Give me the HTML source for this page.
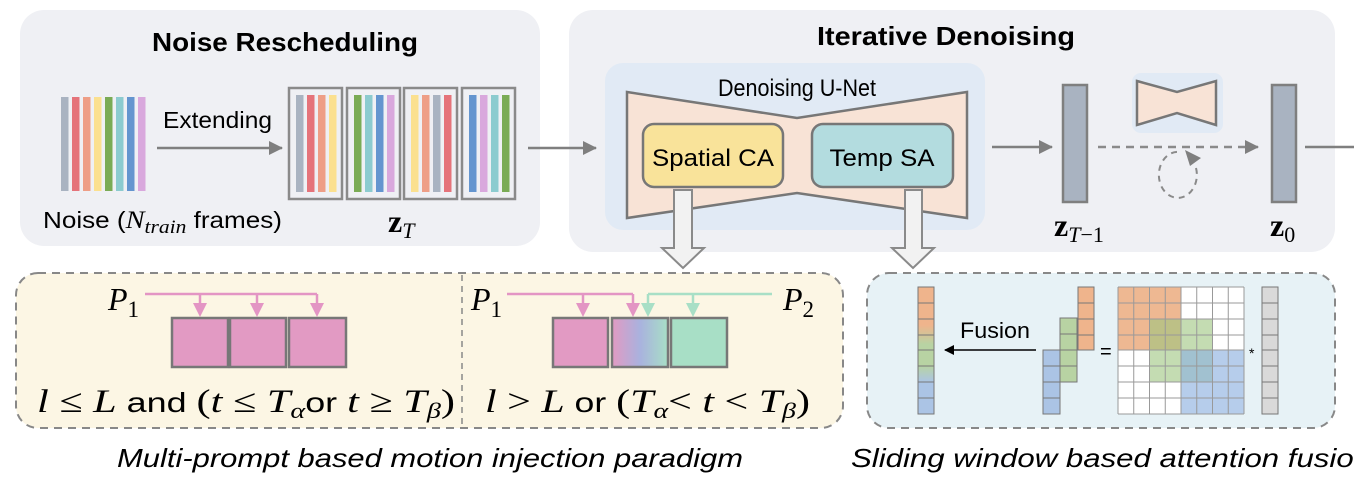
<!DOCTYPE html>
<html><head><meta charset="utf-8"><style>
html,body{margin:0;padding:0;background:#fff;}
svg{display:block;}
.s{font-family:"Liberation Sans",sans-serif;}
.m{font-family:"Liberation Serif",serif;font-style:italic;}
</style></head><body>
<svg width="1354" height="478" viewBox="0 0 1354 478" xmlns="http://www.w3.org/2000/svg">
<defs>
<marker id="ah" markerWidth="10" markerHeight="10" refX="9" refY="5" orient="auto" markerUnits="userSpaceOnUse"><path d="M0,0 L10,5 L0,10 z" fill="#000"/></marker>
<marker id="ahs" markerWidth="14" markerHeight="14" refX="13" refY="7" orient="auto" markerUnits="userSpaceOnUse"><path d="M0,0 L14,7 L0,14 z" fill="#7f7f7f"/></marker>
<linearGradient id="mix" x1="0" x2="1" y1="0" y2="0"><stop offset="0" stop-color="#e29ac3"/><stop offset="0.5" stop-color="#a9b2de"/><stop offset="1" stop-color="#a8dfc6"/></linearGradient>
<linearGradient id="col" x1="0" x2="0" y1="0" y2="1"><stop offset="0" stop-color="#efb48c"/><stop offset="0.3" stop-color="#efb48c"/><stop offset="0.45" stop-color="#b8d3a3"/><stop offset="0.62" stop-color="#b8d3a3"/><stop offset="0.75" stop-color="#abc4e5"/><stop offset="1" stop-color="#abc4e5"/></linearGradient>
</defs>

<!-- Left panel -->
<rect x="20" y="10" width="520" height="236" rx="24" fill="#eff0f4"/>
<text x="285" y="51" text-anchor="middle" class="s" font-size="26" font-weight="bold" textLength="266" lengthAdjust="spacingAndGlyphs">Noise Rescheduling</text>
<g>
<rect x="61" y="97" width="7.5" height="94" fill="#a9b3c1"/>
<rect x="72" y="97" width="7.5" height="94" fill="#e5737a"/>
<rect x="83" y="97" width="7.5" height="94" fill="#ee9e86"/>
<rect x="94" y="97" width="7.5" height="94" fill="#fbe08f"/>
<rect x="105" y="97" width="7.5" height="94" fill="#7aab55"/>
<rect x="116" y="97" width="7.5" height="94" fill="#8ccbcf"/>
<rect x="127" y="97" width="7.5" height="94" fill="#6495cf"/>
<rect x="138" y="97" width="7.5" height="94" fill="#d9a8dd"/>
</g>
<text x="163" y="128" class="s" font-size="23" textLength="109" lengthAdjust="spacingAndGlyphs">Extending</text>
<line x1="157" y1="148" x2="282" y2="148" stroke="#7f7f7f" stroke-width="2.5" marker-end="url(#ahs)"/>
<g stroke="#8a8a8a" stroke-width="2.5" fill="none">
<rect x="289" y="88" width="53" height="111"/>
<rect x="347" y="88" width="53" height="111"/>
<rect x="404" y="88" width="53" height="111"/>
<rect x="462" y="88" width="53" height="111"/>
</g>
<g>
<rect x="296" y="95" width="7.5" height="97" fill="#a9b3c1"/><rect x="307" y="95" width="7.5" height="97" fill="#e5737a"/><rect x="318" y="95" width="7.5" height="97" fill="#ee9e86"/><rect x="329" y="95" width="7.5" height="97" fill="#fbe08f"/>
<rect x="354" y="95" width="7.5" height="97" fill="#7aab55"/><rect x="365" y="95" width="7.5" height="97" fill="#8ccbcf"/><rect x="376" y="95" width="7.5" height="97" fill="#6495cf"/><rect x="387" y="95" width="7.5" height="97" fill="#d9a8dd"/>
<rect x="411" y="95" width="7.5" height="97" fill="#fbe08f"/><rect x="422" y="95" width="7.5" height="97" fill="#ee9e86"/><rect x="433" y="95" width="7.5" height="97" fill="#a9b3c1"/><rect x="444" y="95" width="7.5" height="97" fill="#e5737a"/>
<rect x="469" y="95" width="7.5" height="97" fill="#6495cf"/><rect x="480" y="95" width="7.5" height="97" fill="#d9a8dd"/><rect x="491" y="95" width="7.5" height="97" fill="#8ccbcf"/><rect x="502" y="95" width="7.5" height="97" fill="#7aab55"/>
</g>
<text x="43" y="228" class="s" font-size="23" textLength="239" lengthAdjust="spacingAndGlyphs">Noise (<tspan class="m" font-size="25">N</tspan><tspan class="m" font-size="19" dy="5">train</tspan><tspan dy="-5"> frames)</tspan></text>
<text x="388" y="232" font-family="Liberation Serif,serif" font-weight="bold" font-size="32">z<tspan font-weight="normal" font-style="italic" font-size="22" dy="6">T</tspan></text>

<!-- Right panel -->
<rect x="569" y="10" width="766" height="242" rx="24" fill="#eff0f4"/>
<line x1="528" y1="148" x2="596" y2="148" stroke="#7f7f7f" stroke-width="2.5" marker-end="url(#ahs)"/>
<text x="946" y="45" text-anchor="middle" class="s" font-size="26" font-weight="bold" textLength="258" lengthAdjust="spacingAndGlyphs">Iterative Denoising</text>
<rect x="605" y="63" width="380" height="167" rx="18" fill="#e1eaf5"/>
<text x="797" y="96" text-anchor="middle" class="s" font-size="24" textLength="158" lengthAdjust="spacingAndGlyphs">Denoising U-Net</text>
<path d="M627,92 L797,118 L967,92 L967,218 L797,193 L627,218 Z" fill="#f8e3d6" stroke="#777" stroke-width="2.5"/>
<rect x="643" y="124" width="140" height="63" rx="11" fill="#f9e39a" stroke="#777" stroke-width="2.5"/>
<rect x="812" y="124" width="141" height="63" rx="11" fill="#b3dcdf" stroke="#777" stroke-width="2.5"/>
<text x="713" y="166" text-anchor="middle" class="s" font-size="24" textLength="122" lengthAdjust="spacingAndGlyphs">Spatial CA</text>
<text x="882" y="166" text-anchor="middle" class="s" font-size="24" textLength="105" lengthAdjust="spacingAndGlyphs">Temp SA</text>

<line x1="992" y1="147" x2="1052" y2="147" stroke="#7f7f7f" stroke-width="2.5" marker-end="url(#ahs)"/>
<rect x="1063" y="85" width="24" height="117" fill="#a9b3c1" stroke="#7f7f7f" stroke-width="2.5"/>
<text x="1054" y="236" font-family="Liberation Serif,serif" font-weight="bold" font-size="32">z<tspan font-weight="normal" font-size="22" dy="6"><tspan font-style="italic">T</tspan>−1</tspan></text>

<rect x="1132" y="73" width="91" height="60" rx="9" fill="#e1eaf5"/>
<path d="M1137,81 L1177,92 L1216,81 L1216,125 L1177,113 L1137,125 Z" fill="#f8e3d6" stroke="#777" stroke-width="2.5"/>
<line x1="1098" y1="147" x2="1258" y2="147" stroke="#8a8a8a" stroke-width="2.5" stroke-dasharray="8,6" marker-end="url(#ahs)"/>
<path d="M1196,168 A19,23 0 1 1 1180,152" fill="none" stroke="#8a8a8a" stroke-width="2" stroke-dasharray="6,5"/>
<path d="M1185,150 L1201,158 L1190,166 Z" fill="#7f7f7f"/>
<rect x="1272" y="85" width="24" height="117" fill="#a9b3c1" stroke="#7f7f7f" stroke-width="2.5"/>
<text x="1270" y="236" font-family="Liberation Serif,serif" font-weight="bold" font-size="32">z<tspan font-weight="normal" font-size="22" dy="6">0</tspan></text>
<line x1="1305" y1="147" x2="1354" y2="147" stroke="#7f7f7f" stroke-width="2.5"/>

<!-- Bottom left -->
<rect x="16" y="273" width="827" height="155" rx="22" fill="#fcf6e4" stroke="#888" stroke-width="2" stroke-dasharray="8,6"/>
<line x1="462" y1="275" x2="462" y2="426" stroke="#888" stroke-width="1.5" stroke-dasharray="6,5"/>

<text x="108" y="310" class="m" font-size="32">P<tspan font-style="normal" font-size="23" dy="7">1</tspan></text>
<g stroke="#e395c4" stroke-width="2.5" fill="none">
<polyline points="145,294 317,294"/>
<line x1="200" y1="294" x2="200" y2="305"/><line x1="257" y1="294" x2="257" y2="305"/><line x1="317" y1="294" x2="317" y2="305"/>
</g>
<g fill="#e395c4">
<path d="M193,303 L207,303 L200,317 Z"/><path d="M250,303 L264,303 L257,317 Z"/><path d="M310,303 L324,303 L317,317 Z"/>
</g>
<g stroke="#777" stroke-width="2.5">
<rect x="172" y="318" width="56" height="49" fill="#e29ac3"/>
<rect x="230" y="318" width="56" height="49" fill="#e29ac3"/>
<rect x="289" y="318" width="57" height="49" fill="#e29ac3"/>
</g>
<text x="37" y="412" font-family="Liberation Serif,serif" font-size="33" textLength="418" lengthAdjust="spacingAndGlyphs"><tspan font-style="italic">l</tspan> ≤ <tspan font-style="italic">L</tspan><tspan font-family="Liberation Sans,sans-serif" font-size="28"> and </tspan>(<tspan font-style="italic">t</tspan> ≤ <tspan font-style="italic">T</tspan><tspan font-style="italic" font-size="22" dy="6">α</tspan><tspan dy="-6" font-family="Liberation Sans,sans-serif" font-size="28">or </tspan><tspan font-style="italic">t</tspan> ≥ <tspan font-style="italic">T</tspan><tspan font-style="italic" font-size="22" dy="6">β</tspan><tspan dy="-6">)</tspan></text>

<text x="471" y="310" class="m" font-size="32">P<tspan font-style="normal" font-size="23" dy="7">1</tspan></text>
<text x="783" y="310" class="m" font-size="32">P<tspan font-style="normal" font-size="23" dy="7">2</tspan></text>
<g stroke="#e395c4" stroke-width="2.5">
<line x1="507" y1="294" x2="633" y2="294"/>
<line x1="583" y1="294" x2="583" y2="305"/><line x1="633" y1="294" x2="633" y2="305"/>
</g>
<g fill="#e395c4"><path d="M576,303 L590,303 L583,317 Z"/><path d="M626,303 L640,303 L633,317 Z"/></g>
<g stroke="#a8dfc6" stroke-width="2.5">
<line x1="648" y1="294" x2="772" y2="294"/>
<line x1="648" y1="294" x2="648" y2="305"/><line x1="693" y1="294" x2="693" y2="305"/>
</g>
<g fill="#a8dfc6"><path d="M641,303 L655,303 L648,317 Z"/><path d="M686,303 L700,303 L693,317 Z"/></g>
<g stroke="#777" stroke-width="2.5">
<rect x="553" y="318" width="55" height="49" fill="#e29ac3"/>
<rect x="612" y="318" width="56" height="49" fill="url(#mix)"/>
<rect x="671" y="318" width="56" height="49" fill="#a8dfc6"/>
</g>
<text x="485" y="412" font-family="Liberation Serif,serif" font-size="33" textLength="325" lengthAdjust="spacingAndGlyphs"><tspan font-style="italic">l</tspan> &gt; <tspan font-style="italic">L</tspan><tspan font-family="Liberation Sans,sans-serif" font-size="28"> or </tspan>(<tspan font-style="italic">T</tspan><tspan font-style="italic" font-size="22" dy="6">α</tspan><tspan dy="-6">&lt; </tspan><tspan font-style="italic">t</tspan> &lt; <tspan font-style="italic">T</tspan><tspan font-style="italic" font-size="22" dy="6">β</tspan><tspan dy="-6">)</tspan></text>

<text x="117" y="467" class="s" font-style="italic" font-size="26" textLength="626" lengthAdjust="spacingAndGlyphs">Multi-prompt based motion injection paradigm</text>

<!-- Bottom right -->
<rect x="867" y="273" width="468" height="155" rx="22" fill="#e7f2f6" stroke="#888" stroke-width="2" stroke-dasharray="8,6"/>
<rect x="918" y="287" width="16" height="127" fill="url(#col)" stroke="#777" stroke-width="1"/>
<g stroke="#777" stroke-width="1">
<line x1="918" y1="303" x2="934" y2="303"/><line x1="918" y1="319" x2="934" y2="319"/><line x1="918" y1="335" x2="934" y2="335"/><line x1="918" y1="350" x2="934" y2="350"/><line x1="918" y1="366" x2="934" y2="366"/><line x1="918" y1="382" x2="934" y2="382"/><line x1="918" y1="398" x2="934" y2="398"/>
</g>
<text x="960" y="338" class="s" font-size="22" textLength="70" lengthAdjust="spacingAndGlyphs">Fusion</text>
<line x1="1036" y1="350" x2="945" y2="350" stroke="#000" stroke-width="1.5" marker-end="url(#ah)"/>
<g stroke="#777" stroke-width="1">
<rect x="1043" y="350" width="17" height="16" fill="#abc4e5"/><rect x="1043" y="366" width="17" height="16" fill="#abc4e5"/><rect x="1043" y="382" width="17" height="16" fill="#abc4e5"/><rect x="1043" y="398" width="17" height="16" fill="#abc4e5"/>
<rect x="1060" y="318" width="17" height="16" fill="#b8d3a3"/><rect x="1060" y="334" width="17" height="16" fill="#b8d3a3"/><rect x="1060" y="350" width="17" height="16" fill="#b8d3a3"/><rect x="1060" y="366" width="17" height="16" fill="#b8d3a3"/>
<rect x="1078" y="287" width="16" height="16" fill="#efb48c"/><rect x="1078" y="303" width="16" height="16" fill="#efb48c"/><rect x="1078" y="319" width="16" height="16" fill="#efb48c"/><rect x="1078" y="335" width="16" height="15" fill="#efb48c"/>
</g>
<text x="1100" y="358" class="s" font-size="20">=</text>
<rect x="1118" y="287" width="126" height="127" fill="#fff"/>
<rect x="1118" y="287" width="63" height="63" fill="#e8a06e" fill-opacity="0.75"/>
<rect x="1149.5" y="318.5" width="63" height="63" fill="#9cc47f" fill-opacity="0.6"/>
<rect x="1181" y="350" width="63" height="64" fill="#8fb2e0" fill-opacity="0.65"/>
<g stroke="#999" stroke-width="1">
<line x1="1118" y1="287" x2="1118" y2="414"/><line x1="1133.75" y1="287" x2="1133.75" y2="414"/><line x1="1149.5" y1="287" x2="1149.5" y2="414"/><line x1="1165.25" y1="287" x2="1165.25" y2="414"/><line x1="1181" y1="287" x2="1181" y2="414"/><line x1="1196.75" y1="287" x2="1196.75" y2="414"/><line x1="1212.5" y1="287" x2="1212.5" y2="414"/><line x1="1228.25" y1="287" x2="1228.25" y2="414"/><line x1="1244" y1="287" x2="1244" y2="414"/>
<line x1="1118" y1="287" x2="1244" y2="287"/><line x1="1118" y1="303" x2="1244" y2="303"/><line x1="1118" y1="319" x2="1244" y2="319"/><line x1="1118" y1="335" x2="1244" y2="335"/><line x1="1118" y1="350" x2="1244" y2="350"/><line x1="1118" y1="366" x2="1244" y2="366"/><line x1="1118" y1="382" x2="1244" y2="382"/><line x1="1118" y1="398" x2="1244" y2="398"/><line x1="1118" y1="414" x2="1244" y2="414"/>
</g>
<text x="1249" y="358" class="s" font-size="14">*</text>
<rect x="1262" y="287" width="16" height="127" fill="#d9d9d9" stroke="#777" stroke-width="1"/>
<g stroke="#777" stroke-width="1">
<line x1="1262" y1="303" x2="1278" y2="303"/><line x1="1262" y1="319" x2="1278" y2="319"/><line x1="1262" y1="335" x2="1278" y2="335"/><line x1="1262" y1="350" x2="1278" y2="350"/><line x1="1262" y1="366" x2="1278" y2="366"/><line x1="1262" y1="382" x2="1278" y2="382"/><line x1="1262" y1="398" x2="1278" y2="398"/>
</g>
<text x="851" y="467" class="s" font-style="italic" font-size="26" textLength="520" lengthAdjust="spacingAndGlyphs">Sliding window based attention fusion</text>

<!-- Hollow arrows -->
<path d="M674,190 L692,190 L692,248 L704,248 L683,268 L662,248 L674,248 Z" fill="#f2f2f2" stroke="#8a8a8a" stroke-width="2"/>
<path d="M905,190 L922,190 L922,248 L934,248 L913,268 L892,248 L905,248 Z" fill="#f2f2f2" stroke="#8a8a8a" stroke-width="2"/>
</svg>
</body></html>
